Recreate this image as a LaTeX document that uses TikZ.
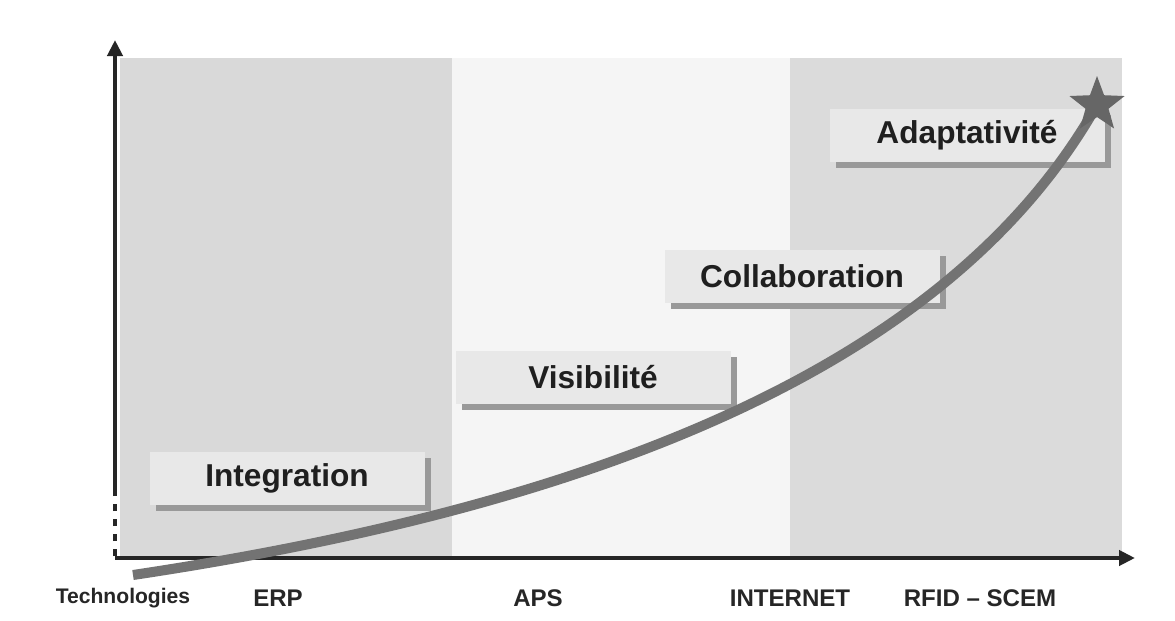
\documentclass[tikz,border=0pt]{standalone}
\usepackage{fontspec}
\setmainfont{Liberation Sans}
\usepackage{tikz}
\usetikzlibrary{shapes.geometric,shadows,arrows.meta}

\begin{document}
\begin{tikzpicture}
\tikzstyle{etichetta} = [fill=black!9, minimum width=5.5cm, minimum height=1.06cm, inner sep=0,
  font=\fontsize{18}{20}\selectfont\bfseries, text=black!88,
  drop shadow={shadow xshift=0.12cm, shadow yshift=-0.12cm, fill=black!40, opacity=1}]
\tikzstyle{tecno} = [font=\fontsize{13.7}{15}\selectfont\bfseries, text=black!85]
\tikzstyle{asse} = [line width=2.3pt, black!85, -{Triangle[length=0.32cm,width=0.3cm]}]

\useasboundingbox[fill=white] (0,0) rectangle (23.5,12.4);

% Fasce
\fill[black!15] (2.4,1.24) rectangle (9.04,11.24);
\fill[black!4] (9.04,1.24) rectangle (15.8,11.24);
\fill[black!14] (15.8,1.24) rectangle (22.44,11.24);

% Assi
\coordinate (o) at (2.3,1.24);
\coordinate (ytop) at (2.3,11.6);
\coordinate (ydot) at (2.3,2.6);
\coordinate (xend) at (22.7,1.24);
\draw[asse] (ydot) -- (ytop);
\draw[line width=2.3pt, black!85, dash pattern=on 0.14cm off 0.16cm] (o) ++(0,0.04) -- (ydot);
\draw[asse] (o) -- (xend);

% Etichette
\node[etichetta] (integ) at (5.74,2.84) {Integration};
\node[etichetta] (visib) at (11.86,4.86) {Visibilité};
\node[etichetta] (colla) at (16.04,6.88) {Collaboration};
\node[etichetta] (adapt) at (19.34,9.7) {Adaptativité};

% Curva
\coordinate (start) at (2.66,0.9);
\coordinate (cima) at (21.94,10.3);
\draw[line width=5.7pt, black!55] (start) .. controls (12,2.3) and (19,5.1) .. (cima);
\node[star, star points=5, star point ratio=2.4, minimum size=1.16cm, inner sep=0, fill=black!60] (stella) at (cima) {};

% Tecnologie
\node[tecno, font=\fontsize{12}{14}\selectfont\bfseries] (tec) at (2.46,0.44) {Technologies};
\foreach \nome/\x in {erp/5.56, aps/10.76, internet/15.8, rfid/19.6} {
  \coordinate (\nome) at (\x,0.44);
}
\node[tecno] at (erp) {ERP};
\node[tecno] at (aps) {APS};
\node[tecno] at (internet) {INTERNET};
\node[tecno] at (rfid) {RFID -- SCEM};

\end{tikzpicture}
\end{document}
